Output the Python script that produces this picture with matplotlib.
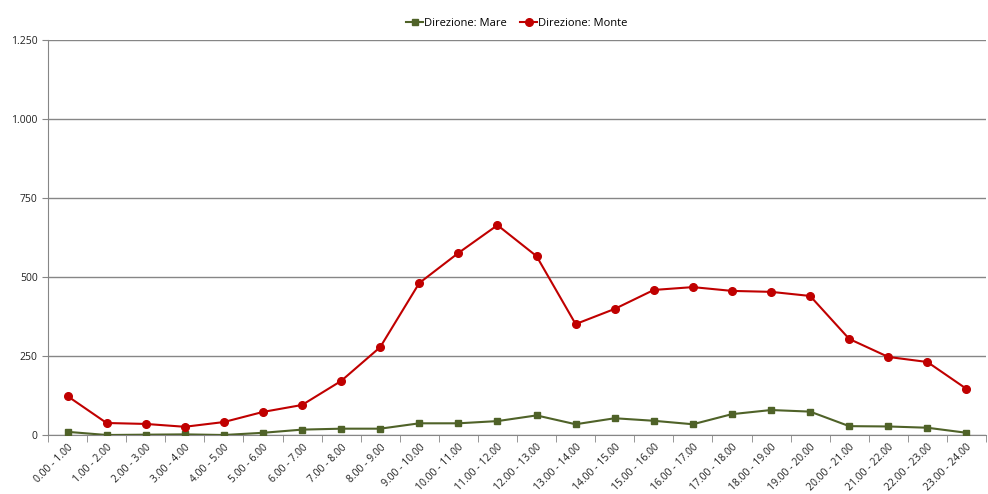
import matplotlib
matplotlib.use("Agg")
import matplotlib.pyplot as plt
from matplotlib.ticker import FuncFormatter, FixedLocator

# fasce orarie
fasce = ["0.00 - 1.00", "1.00 - 2.00", "2.00 - 3.00", "3.00 - 4.00", "4.00 - 5.00",
         "5.00 - 6.00", "6.00 - 7.00", "7.00 - 8.00", "8.00 - 9.00", "9.00 - 10.00",
         "10.00 - 11.00", "11.00 - 12.00", "12.00 - 13.00", "13.00 - 14.00",
         "14.00 - 15.00", "15.00 - 16.00", "16.00 - 17.00", "17.00 - 18.00",
         "18.00 - 19.00", "19.00 - 20.00", "20.00 - 21.00", "21.00 - 22.00",
         "22.00 - 23.00", "23.00 - 24.00"]

mare = [10, 0, 1, 2, 0, 7, 17, 20, 20, 37, 37, 44, 62, 34, 53, 45, 34, 66, 79, 74, 28, 27, 23, 7]
monte = [123, 38, 35, 26, 41, 73, 95, 171, 278, 481, 576, 664, 566, 351, 399, 459, 468,
         456, 453, 440, 304, 247, 231, 146]

plt.rcParams['font.family'] = ['Open Sans', 'DejaVu Sans']

fig = plt.figure(figsize=(9.88, 4.94), dpi=100)
ax = fig.add_axes([48/988, 59/494, 938/988, 395/494])

x = list(range(len(fasce)))
ax.plot(x, mare, color="#4F6228", marker="s", markersize=5, linewidth=1.5,
        label="Direzione: Mare", zorder=3)
ax.plot(x, monte, color="#C00000", marker="o", markersize=5.5, linewidth=1.5,
        label="Direzione: Monte", zorder=3)

ax.set_xlim(-0.5, len(fasce) - 0.5)
ax.set_ylim(0, 1250)
ax.set_yticks([0, 250, 500, 750, 1000, 1250])
ax.yaxis.set_major_formatter(FuncFormatter(lambda v, p: f"{int(v):,}".replace(",", ".")))
ax.yaxis.grid(True, color="#868686", linewidth=1)
ax.set_axisbelow(True)

ax.set_xticks(x)
ax.set_xticklabels(fasce, rotation=45, ha="right", rotation_mode="anchor", fontsize=7.5)
ax.tick_params(axis="x", length=0, pad=5)
ax.xaxis.set_minor_locator(FixedLocator([i - 0.5 for i in range(len(fasce) + 1)]))
ax.tick_params(axis="x", which="minor", length=5, color="#868686")
ax.tick_params(axis="y", labelsize=7.5, length=4, color="#868686", colors="#222222")
ax.tick_params(axis="x", colors="#222222")
ax.tick_params(axis="x", which="minor", color="#868686")

for s in ["top", "right"]:
    ax.spines[s].set_visible(False)
for s in ["left", "bottom"]:
    ax.spines[s].set_color("#868686")

ax.legend(loc="lower center", bbox_to_anchor=(0.5, 1.0), ncol=2, frameon=False,
          fontsize=8, handlelength=1.5, handletextpad=0.1, columnspacing=1.2,
          borderaxespad=0.6)

fig.savefig("out.png", dpi=100)
